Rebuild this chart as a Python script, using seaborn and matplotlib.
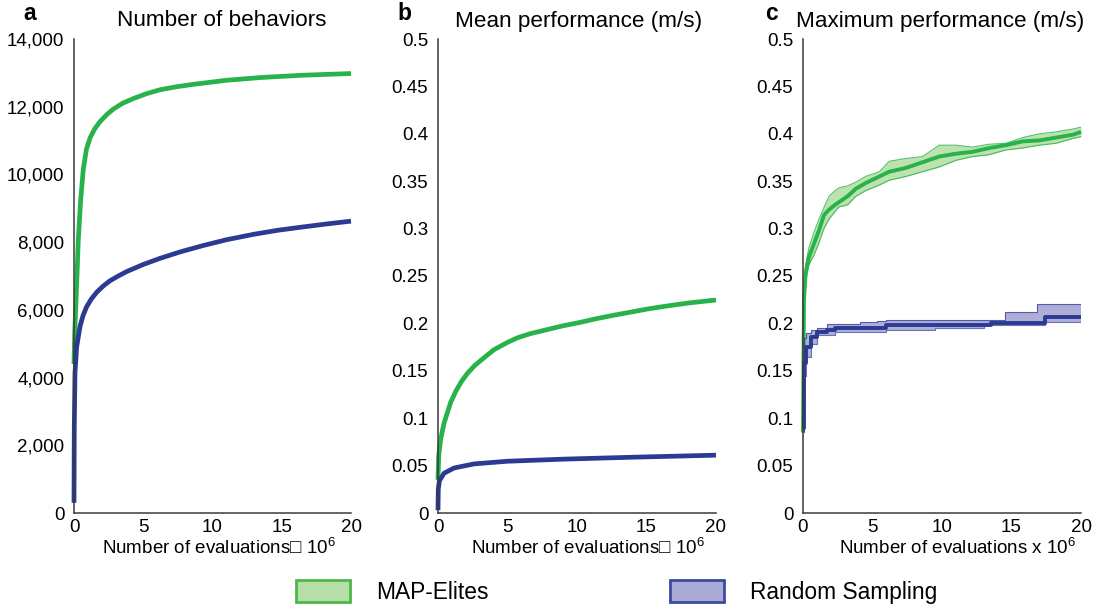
import matplotlib
matplotlib.use("Agg")
import matplotlib.pyplot as plt
import seaborn as sns
import numpy as np
import pandas as pd
from matplotlib.patches import Patch

# ---------------- data ----------------
series_names = ["MAP-Elites", "Random Sampling"]
x_ticks = [0, 5, 10, 15, 20]

# panel a: number of behaviors
a_map_x = [0, 0.05, 0.15, 0.31, 0.48, 0.67, 0.9, 1.16, 1.5, 1.88, 2.4, 2.84, 3.5, 4.28, 5.2, 6.2, 7.4, 8.6, 11, 13.4, 16.5, 20]
a_map_y = [4400, 5300, 6300, 8060, 9240, 10150, 10750, 11080, 11350, 11560, 11780, 11930, 12100, 12240, 12380, 12500, 12590, 12660, 12780, 12860, 12930, 12980]
a_rand_x = [0, 0.02, 0.07, 0.19, 0.43, 0.65, 0.91, 1.25, 1.64, 2.1, 2.6, 3.2, 3.8, 5.0, 6.2, 7.65, 9.33, 11, 12.95, 14.7, 16.55, 18.3, 20]
a_rand_y = [300, 2500, 4130, 4900, 5500, 5830, 6090, 6320, 6520, 6700, 6860, 7000, 7130, 7340, 7520, 7710, 7900, 8070, 8230, 8350, 8450, 8540, 8620]
a_yticks = [0, 2000, 4000, 6000, 8000, 10000, 12000, 14000]
a_yticklabels = ["0", "2,000", "4,000", "6,000", "8,000", "10,000", "12,000", "14,000"]

# panel b: mean performance
b_map_x = [0, 0.05, 0.19, 0.44, 0.7, 0.92, 1.3, 1.7, 2.1, 2.6, 3.0, 3.5, 4.0, 5.0, 5.75, 6.6, 8.0, 9.0, 10.2, 11.4, 12.6, 13.9, 15.0, 16.3, 18, 20]
b_map_y = [0.035, 0.06, 0.078, 0.095, 0.107, 0.117, 0.129, 0.139, 0.147, 0.155, 0.160, 0.166, 0.172, 0.180, 0.185, 0.189, 0.194, 0.1975, 0.201, 0.205, 0.2085, 0.212, 0.215, 0.218, 0.2215, 0.2247]
b_rand_x = [0, 0.02, 0.1, 0.44, 1.16, 2.6, 5.0, 9.0, 13.9, 20]
b_rand_y = [0.003, 0.025, 0.034, 0.042, 0.0475, 0.0518, 0.0546, 0.0568, 0.0588, 0.061]

# panel c: maximum performance (median + band)
c_map_x = [0, 0.07, 0.19, 0.43, 0.79, 1.15, 1.5, 1.87, 2.3, 2.6, 3.2, 3.8, 4.5, 5.5, 6.2, 7.4, 8.6, 9.8, 11.0, 12.2, 13.4, 14.6, 15.8, 17.0, 18.2, 19.4, 20]
c_map_med = [0.085, 0.225, 0.253, 0.270, 0.284, 0.298, 0.314, 0.320, 0.325, 0.328, 0.334, 0.342, 0.348, 0.355, 0.360, 0.364, 0.370, 0.376, 0.379, 0.381, 0.385, 0.388, 0.392, 0.393, 0.396, 0.399, 0.402]
c_map_hi = [0.09, 0.235, 0.262, 0.28, 0.296, 0.31, 0.322, 0.334, 0.34, 0.343, 0.345, 0.349, 0.355, 0.360, 0.371, 0.374, 0.376, 0.388, 0.388, 0.386, 0.389, 0.390, 0.396, 0.400, 0.402, 0.405, 0.407]
c_map_lo = [0.08, 0.215, 0.245, 0.262, 0.272, 0.285, 0.300, 0.310, 0.318, 0.323, 0.325, 0.334, 0.340, 0.346, 0.351, 0.355, 0.360, 0.365, 0.372, 0.376, 0.378, 0.383, 0.385, 0.388, 0.390, 0.395, 0.397]

c_rand_x = [0, 0.05, 0.1, 0.25, 0.55, 1.0, 1.7, 2.3, 4.1, 5.3, 6.0, 9.5, 13.0, 13.5, 14.5, 16.8, 17.4, 20]
c_rand_med = [0.09, 0.14, 0.158, 0.175, 0.186, 0.191, 0.193, 0.195, 0.195, 0.195, 0.198, 0.198, 0.198, 0.2005, 0.2005, 0.2005, 0.2065, 0.2065]
c_rand_hi = [0.10, 0.16, 0.185, 0.19, 0.193, 0.195, 0.199, 0.199, 0.201, 0.203, 0.204, 0.204, 0.204, 0.204, 0.2117, 0.220, 0.220, 0.220]
c_rand_lo = [0.085, 0.12, 0.145, 0.165, 0.178, 0.188, 0.188, 0.191, 0.191, 0.191, 0.193, 0.195, 0.198, 0.198, 0.198, 0.198, 0.2015, 0.2015]

perf_yticks = [0, 0.05, 0.1, 0.15, 0.2, 0.25, 0.3, 0.35, 0.4, 0.45, 0.5]
perf_yticklabels = ["0", "0.05", "0.1", "0.15", "0.2", "0.25", "0.3", "0.35", "0.4", "0.45", "0.5"]

titles = ["Number of behaviors", "Mean performance (m/s)", "Maximum performance (m/s)"]
panel_letters = ["a", "b", "c"]
xlabels = ["Number of evaluations\u25a1 10$^{6}$", "Number of evaluations\u25a1 10$^{6}$", "Number of evaluations x 10$^{6}$"]

# ---------------- style ----------------
GREEN = "#27b24a"
BLUE = "#2b3a93"
GREEN_FILL = "#b7dea8"
BLUE_FILL = "#aaaad6"
SPINE = "#3a3a3a"

sns.set_style("white")
plt.rcParams["font.family"] = ["Liberation Sans", "DejaVu Sans"]
plt.rcParams["mathtext.fontset"] = "custom"
plt.rcParams["mathtext.rm"] = "Liberation Sans"
plt.rcParams["mathtext.it"] = "Liberation Sans"
plt.rcParams["text.color"] = "black"
plt.rcParams["axes.labelcolor"] = "black"
plt.rcParams["lines.solid_joinstyle"] = "round"
plt.rcParams["lines.solid_capstyle"] = "butt"

fig = plt.figure(figsize=(10.97, 6.07), dpi=100)
W, H = 1097, 607
axes_px = [(74, 351), (438, 716), (803, 1081)]
top_px, bot_px = 39, 513
axes = []
for (l, r) in axes_px:
    ax = fig.add_axes([l / W, 1 - bot_px / H, (r - l) / W, (bot_px - top_px) / H])
    axes.append(ax)

def style_axis(ax):
    for s in ["top", "right"]:
        ax.spines[s].set_visible(False)
    for s in ["left", "bottom"]:
        ax.spines[s].set_color(SPINE)
        ax.spines[s].set_linewidth(1.1)
    ax.tick_params(direction="in", length=4, width=1.0, color=SPINE,
                   labelsize=13.5, labelcolor="black")
    ax.tick_params(axis="x", pad=4)
    ax.tick_params(axis="y", pad=7)
    ax.set_xlim(0, 20)
    ax.set_xticks(x_ticks)
    ax.set_xticklabels([str(t) for t in x_ticks])
    ax.set_xlabel("")
    ax.set_ylabel("")
    ax.grid(False)

LW = 3.4
# panel a
ax = axes[0]
sns.lineplot(x=a_map_x, y=a_map_y, ax=ax, color=GREEN, lw=LW, clip_on=False)
sns.lineplot(x=a_rand_x, y=a_rand_y, ax=ax, color=BLUE, lw=LW, clip_on=False)
style_axis(ax)
ax.set_ylim(0, 14000)
ax.set_yticks(a_yticks)
ax.set_yticklabels(a_yticklabels)

# panel b
ax = axes[1]
sns.lineplot(x=b_map_x, y=b_map_y, ax=ax, color=GREEN, lw=LW, clip_on=False)
sns.lineplot(x=b_rand_x, y=b_rand_y, ax=ax, color=BLUE, lw=LW, clip_on=False)
style_axis(ax)
ax.set_ylim(0, 0.5)
ax.set_yticks(perf_yticks)
ax.set_yticklabels(perf_yticklabels)

# panel c
ax = axes[2]
ax.fill_between(c_map_x, c_map_lo, c_map_hi, color=GREEN_FILL, alpha=0.9, lw=0)
sns.lineplot(x=c_map_x, y=c_map_hi, ax=ax, color=GREEN, lw=0.8, alpha=0.8)
sns.lineplot(x=c_map_x, y=c_map_lo, ax=ax, color=GREEN, lw=0.8, alpha=0.8)
sns.lineplot(x=c_map_x, y=c_map_med, ax=ax, color=GREEN, lw=2.8, clip_on=False)
ax.fill_between(c_rand_x, c_rand_lo, c_rand_hi, color=BLUE_FILL, alpha=0.95, lw=0, step="post")
sns.lineplot(x=c_rand_x, y=c_rand_hi, ax=ax, color=BLUE, lw=0.8, alpha=0.7, drawstyle="steps-post")
sns.lineplot(x=c_rand_x, y=c_rand_lo, ax=ax, color=BLUE, lw=0.8, alpha=0.7, drawstyle="steps-post")
sns.lineplot(x=c_rand_x, y=c_rand_med, ax=ax, color=BLUE, lw=2.8, drawstyle="steps-post", clip_on=False)
style_axis(ax)
ax.set_ylim(0, 0.5)
ax.set_yticks(perf_yticks)
ax.set_yticklabels(perf_yticklabels)

# titles, letters, x labels
title_cx = [222, 579, 940]
letter_x = [30, 404, 771]
xlabel_cx = [219, 588, 958]
for i in range(3):
    fig.text(title_cx[i] / W, 1 - 21 / H, titles[i], ha="center", va="center", fontsize=16.2)
    fig.text(letter_x[i] / W, 1 - 13 / H, panel_letters[i], ha="center", va="center",
             fontsize=16.5, fontweight="bold")
    fig.text(xlabel_cx[i] / W, 1 - 548 / H, xlabels[i], ha="center", va="center", fontsize=13.5)

# legend
handles = [Patch(facecolor=GREEN_FILL, edgecolor="#4cb84a", linewidth=2.0),
           Patch(facecolor=BLUE_FILL, edgecolor="#3a4ba0", linewidth=2.0)]
leg = fig.legend(handles, series_names, loc="center left", ncol=2, frameon=False,
                 bbox_to_anchor=(296 / W, 1 - 592 / H), fontsize=16.4,
                 handlelength=2.35, handleheight=1.1, handletextpad=1.15,
                 columnspacing=8.0, borderpad=0, borderaxespad=0)
for t in leg.get_texts():
    t.set_color("black")

fig.savefig("out.png", dpi=100)
